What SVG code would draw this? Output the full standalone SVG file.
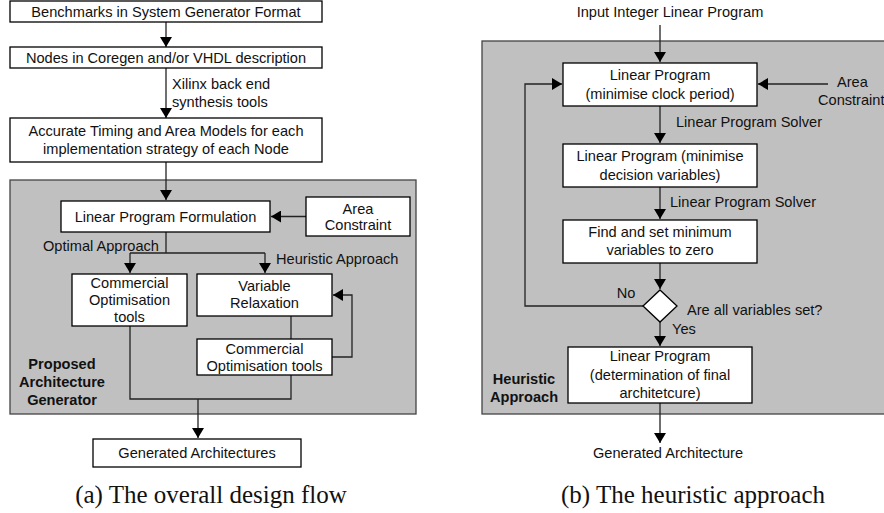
<svg xmlns="http://www.w3.org/2000/svg" width="884" height="513" viewBox="0 0 884 513">
<style>
.box{fill:#fff;stroke:#000;stroke-width:1.3}
.panel{fill:#c0c0c0;stroke:#444;stroke-width:1.3}
.t{font-family:"Liberation Sans",Arial,sans-serif;font-size:14.6px;fill:#111;text-anchor:middle;dominant-baseline:central}
.s{font-size:14.6px}
.l{text-anchor:start}
.b{font-weight:bold}
.cap{font-family:"Liberation Serif","Times New Roman",serif;font-size:25px;fill:#111;text-anchor:middle;dominant-baseline:central}
.c{fill:none;stroke:#222;stroke-width:1.3}
.a{marker-end:url(#ah)}
</style>
<defs>
<marker id="ah" markerWidth="10" markerHeight="12" refX="10" refY="6" orient="auto" markerUnits="userSpaceOnUse">
<path d="M0,0 L10,6 L0,12 Z" fill="#000"/>
</marker>
</defs>
<rect class="panel" x="10" y="180" width="406" height="234"/>
<rect class="panel" x="482" y="41" width="410" height="373"/>
<g id="connectors">
<path class="c a" d="M166,22 V47"/>
<path class="c a" d="M166,68 V118"/>
<path class="c a" d="M166,162 V200"/>
<path class="c a" d="M306,216.5 H271"/>
<path class="c" d="M166,232 V253 M130,253 H265"/>
<path class="c a" d="M130,253 V273"/>
<path class="c a" d="M265,253 V273"/>
<path class="c" d="M291,316 V339"/>
<path class="c a" d="M332,357 H352 V295 H333"/>
<path class="c" d="M130,326 V399 H291 V375"/>
<path class="c a" d="M198,399 V438"/>
<path class="c a" d="M660,25 V62"/>
<path class="c a" d="M828,84 H758"/>
<path class="c a" d="M643,306 H525 V84 H562"/>
<path class="c a" d="M660,106 V143"/>
<path class="c a" d="M660,187 V219"/>
<path class="c a" d="M660,263 V289"/>
<path class="c a" d="M660,322 V346"/>
<path class="c a" d="M660,403 V443"/>
</g>
<g id="n1"><rect class="box" x="10" y="1" width="312" height="21"/><text class="t" x="166" y="12">Benchmarks in System Generator Format</text></g>
<g id="n2"><rect class="box" x="10" y="47" width="312" height="21"/><text class="t" x="166" y="58">Nodes in Coregen and/or VHDL description</text></g>
<text class="t l" x="172" y="84">Xilinx back end</text>
<text class="t l" x="172" y="102">synthesis tools</text>
<g id="n3"><rect class="box" x="10" y="118" width="312" height="44"/><text class="t" x="166" y="131">Accurate Timing and Area Models for each</text><text class="t" x="166" y="149">implementation strategy of each Node</text></g>
<g id="n4"><rect class="box" x="61" y="201" width="209" height="31"/><text class="t" x="165.5" y="216.5">Linear Program Formulation</text></g>
<g id="n5"><rect class="box" x="306" y="197" width="104" height="39"/><text class="t" x="358" y="209">Area</text><text class="t" x="358" y="225">Constraint</text></g>
<text class="t" x="101" y="246">Optimal Approach</text>
<text class="t l" x="276" y="259">Heuristic Approach</text>
<g id="n6"><rect class="box" x="72" y="274" width="115" height="52"/><text class="t" x="129.5" y="283">Commercial</text><text class="t" x="129.5" y="300">Optimisation</text><text class="t" x="129.5" y="317">tools</text></g>
<g id="n7"><rect class="box" x="197" y="274" width="135" height="42"/><text class="t" x="264.5" y="286">Variable</text><text class="t" x="264.5" y="303">Relaxation</text></g>
<g id="n8"><rect class="box" x="197" y="339" width="135" height="36"/><text class="t" x="264.5" y="349">Commercial</text><text class="t" x="264.5" y="366">Optimisation tools</text></g>
<text class="t b" x="62" y="364">Proposed</text>
<text class="t b" x="62" y="382">Architecture</text>
<text class="t b" x="62" y="400">Generator</text>
<g id="n9"><rect class="box" x="93" y="439" width="208" height="28"/><text class="t s" x="197" y="453">Generated Architectures</text></g>
<g id="r0"><text class="t" x="670" y="12">Input Integer Linear Program</text></g>
<g id="r1"><rect class="box" x="563" y="63" width="194" height="43"/><text class="t" x="660" y="75">Linear Program</text><text class="t" x="660" y="94">(minimise clock period)</text></g>
<g id="r2"><text class="t l" x="837" y="82">Area</text><text class="t l" x="818" y="100">Constraint</text></g>
<text class="t l" x="676" y="122">Linear Program Solver</text>
<g id="r3"><rect class="box" x="563" y="144" width="194" height="43"/><text class="t" x="660" y="156">Linear Program (minimise</text><text class="t" x="660" y="175">decision variables)</text></g>
<text class="t l" x="670" y="202">Linear Program Solver</text>
<g id="r4"><rect class="box" x="563" y="220" width="194" height="43"/><text class="t" x="660" y="232">Find and set minimum</text><text class="t" x="660" y="250">variables to zero</text></g>
<g id="r5"><path class="box" d="M660,290 L677,306 L660,322 L643,306 Z"/></g>
<text class="t" x="626" y="293">No</text>
<text class="t l" x="687" y="310">Are all variables set?</text>
<text class="t l" x="672" y="329">Yes</text>
<g id="r6"><rect class="box" x="568" y="347" width="184" height="56"/><text class="t" x="660" y="356">Linear Program</text><text class="t" x="660" y="375">(determination of final</text><text class="t" x="660" y="393">architetcure)</text></g>
<text class="t b" x="524" y="379">Heuristic</text>
<text class="t b" x="524" y="397">Approach</text>
<g id="r7"><text class="t s" x="668" y="453">Generated Architecture</text></g>
<text class="cap" x="211" y="494">(a) The overall design flow</text>
<text class="cap" x="693" y="494">(b) The heuristic approach</text>
</svg>
